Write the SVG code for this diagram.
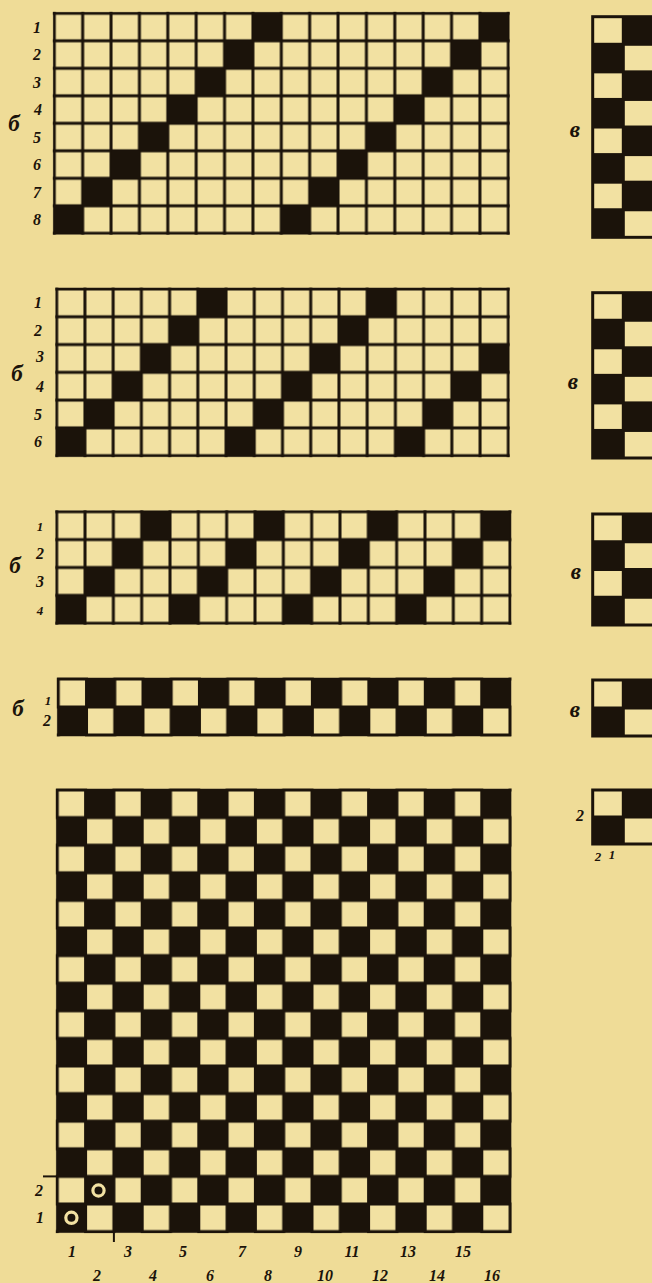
<svg xmlns="http://www.w3.org/2000/svg" width="652" height="1283" viewBox="0 0 652 1283">
<style>
.bg{fill:#efdc97}
.k{fill:#1b130a}
.c{fill:#f2e1a2}
.lbl{font-family:"Liberation Serif","DejaVu Serif",serif;font-style:italic;font-weight:bold;font-size:16px;fill:#1b130a;text-anchor:middle}
.big{font-size:23px}
.sm{font-size:13px}
.tick{stroke:#1b130a;stroke-width:2;fill:none}
.ring{fill:#1b130a;stroke:#f2e1a2;stroke-width:3.2}
</style>
<defs>
<pattern id="p1" x="54.3" y="13.3" width="28.375" height="27.5" patternUnits="userSpaceOnUse"><rect class="k" width="28.375" height="27.5"/><rect class="c" x="1.5" y="1.5" width="25.375" height="24.5"/></pattern>
<pattern id="p2" x="56.7" y="289" width="28.225" height="27.78" patternUnits="userSpaceOnUse"><rect class="k" width="28.225" height="27.78"/><rect class="c" x="1.5" y="1.5" width="25.225" height="24.78"/></pattern>
<pattern id="p3" x="56.7" y="511.7" width="28.33" height="27.9" patternUnits="userSpaceOnUse"><rect class="k" width="28.33" height="27.9"/><rect class="c" x="1.5" y="1.5" width="25.33" height="24.9"/></pattern>
<pattern id="p4" x="58.3" y="679" width="56.46" height="56" patternUnits="userSpaceOnUse"><rect class="k" width="56.46" height="56"/><rect class="c" x="1.5" y="1.5" width="25.23" height="25"/><rect class="c" x="29.73" y="29.5" width="25.23" height="25"/></pattern>
<pattern id="p5" x="57.3" y="790" width="56.6" height="55.2" patternUnits="userSpaceOnUse"><rect class="k" width="56.6" height="55.2"/><rect class="c" x="1.5" y="1.5" width="25.3" height="24.6"/><rect class="c" x="29.8" y="29.1" width="25.3" height="24.6"/></pattern>
</defs>
<rect class="bg" x="0" y="0" width="652" height="1283"/>

<g id="grid-b1">
<rect x="52.8" y="11.8" width="457" height="223" fill="url(#p1)"/>
<g class="k" transform="translate(54.3 13.3) scale(28.375 27.5)">
<rect x="7" y="0" width="1" height="1"/><rect x="15" y="0" width="1" height="1"/>
<rect x="6" y="1" width="1" height="1"/><rect x="14" y="1" width="1" height="1"/>
<rect x="5" y="2" width="1" height="1"/><rect x="13" y="2" width="1" height="1"/>
<rect x="4" y="3" width="1" height="1"/><rect x="12" y="3" width="1" height="1"/>
<rect x="3" y="4" width="1" height="1"/><rect x="11" y="4" width="1" height="1"/>
<rect x="2" y="5" width="1" height="1"/><rect x="10" y="5" width="1" height="1"/>
<rect x="1" y="6" width="1" height="1"/><rect x="9" y="6" width="1" height="1"/>
<rect x="0" y="7" width="1" height="1"/><rect x="8" y="7" width="1" height="1"/>
</g>
<text class="lbl big" x="14" y="131">б</text>
<text class="lbl" x="37" y="32.5">1</text>
<text class="lbl" x="37" y="60">2</text>
<text class="lbl" x="37" y="87.5">3</text>
<text class="lbl" x="38" y="115">4</text>
<text class="lbl" x="37" y="142.5">5</text>
<text class="lbl" x="37" y="170">6</text>
<text class="lbl" x="37" y="197.5">7</text>
<text class="lbl" x="37" y="225">8</text>
</g>

<g id="grid-b2">
<rect x="55.2" y="287.5" width="454.6" height="169.7" fill="url(#p2)"/>
<g class="k" transform="translate(56.7 289) scale(28.225 27.78)">
<rect x="5" y="0" width="1" height="1"/><rect x="11" y="0" width="1" height="1"/>
<rect x="4" y="1" width="1" height="1"/><rect x="10" y="1" width="1" height="1"/>
<rect x="3" y="2" width="1" height="1"/><rect x="9" y="2" width="1" height="1"/><rect x="15" y="2" width="1" height="1"/>
<rect x="2" y="3" width="1" height="1"/><rect x="8" y="3" width="1" height="1"/><rect x="14" y="3" width="1" height="1"/>
<rect x="1" y="4" width="1" height="1"/><rect x="7" y="4" width="1" height="1"/><rect x="13" y="4" width="1" height="1"/>
<rect x="0" y="5" width="1" height="1"/><rect x="6" y="5" width="1" height="1"/><rect x="12" y="5" width="1" height="1"/>
</g>
<text class="lbl big" x="17" y="381">б</text>
<text class="lbl" x="38" y="308.4">1</text>
<text class="lbl" x="38" y="336.2">2</text>
<text class="lbl" x="40" y="362">3</text>
<text class="lbl" x="40" y="391.7">4</text>
<text class="lbl" x="38" y="419.5">5</text>
<text class="lbl" x="38" y="447.3">6</text>
</g>

<g id="grid-b3">
<rect x="55.2" y="510.2" width="456.3" height="114.6" fill="url(#p3)"/>
<g class="k" transform="translate(56.7 511.7) scale(28.33 27.9)">
<rect x="3" y="0" width="1" height="1"/><rect x="7" y="0" width="1" height="1"/><rect x="11" y="0" width="1" height="1"/><rect x="15" y="0" width="1" height="1"/>
<rect x="2" y="1" width="1" height="1"/><rect x="6" y="1" width="1" height="1"/><rect x="10" y="1" width="1" height="1"/><rect x="14" y="1" width="1" height="1"/>
<rect x="1" y="2" width="1" height="1"/><rect x="5" y="2" width="1" height="1"/><rect x="9" y="2" width="1" height="1"/><rect x="13" y="2" width="1" height="1"/>
<rect x="0" y="3" width="1" height="1"/><rect x="4" y="3" width="1" height="1"/><rect x="8" y="3" width="1" height="1"/><rect x="12" y="3" width="1" height="1"/>
</g>
<text class="lbl big" x="15" y="573">б</text>
<text class="lbl sm" x="40" y="531">1</text>
<text class="lbl" x="40" y="559">2</text>
<text class="lbl" x="40" y="587">3</text>
<text class="lbl sm" x="40" y="615">4</text>
</g>

<g id="grid-b4">
<rect x="56.8" y="677.5" width="454.7" height="59" fill="url(#p4)"/>
<text class="lbl big" x="18" y="716">б</text>
<text class="lbl sm" x="48" y="705">1</text>
<text class="lbl" x="47" y="726">2</text>
</g>

<g id="grid-a">
<rect x="55.8" y="788.5" width="455.8" height="444.6" fill="url(#p5)"/>
<circle class="ring" cx="98.5" cy="1190.5" r="5.6"/>
<circle class="ring" cx="71.4" cy="1217.8" r="5.6"/>
<text class="lbl" x="39" y="1196">2</text>
<text class="lbl" x="40" y="1223">1</text>
<text class="lbl" x="72" y="1257">1</text>
<text class="lbl" x="128" y="1257">3</text>
<text class="lbl" x="183" y="1257">5</text>
<text class="lbl" x="242" y="1257">7</text>
<text class="lbl" x="298" y="1257">9</text>
<text class="lbl" x="352" y="1257">11</text>
<text class="lbl" x="408" y="1257">13</text>
<text class="lbl" x="463" y="1257">15</text>
<text class="lbl" x="97" y="1281">2</text>
<text class="lbl" x="153" y="1281">4</text>
<text class="lbl" x="210" y="1281">6</text>
<text class="lbl" x="268" y="1281">8</text>
<text class="lbl" x="325" y="1281">10</text>
<text class="lbl" x="380" y="1281">12</text>
<text class="lbl" x="437" y="1281">14</text>
<text class="lbl" x="492" y="1281">16</text>
</g>

<g id="grid-v1">
<rect class="k" x="591.2" y="15.2" width="68.8" height="223.6"/>
<rect class="c" x="594.2" y="18.2" width="27.6" height="24.58"/>
<rect class="c" x="624.8" y="45.78" width="27.6" height="24.58"/>
<rect class="c" x="594.2" y="73.36" width="27.6" height="24.58"/>
<rect class="c" x="624.8" y="100.94" width="27.6" height="24.58"/>
<rect class="c" x="594.2" y="128.52" width="27.6" height="24.58"/>
<rect class="c" x="624.8" y="156.1" width="27.6" height="24.58"/>
<rect class="c" x="594.2" y="183.68" width="27.6" height="24.58"/>
<rect class="c" x="624.8" y="211.26" width="27.6" height="24.58"/>
<text class="lbl big" x="575" y="137">в</text>
</g>

<g id="grid-v2">
<rect class="k" x="591.2" y="291.2" width="68.8" height="168.3"/>
<rect class="c" x="594.2" y="294.2" width="27.6" height="24.55"/>
<rect class="c" x="624.8" y="321.75" width="27.6" height="24.55"/>
<rect class="c" x="594.2" y="349.3" width="27.6" height="24.55"/>
<rect class="c" x="624.8" y="376.85" width="27.6" height="24.55"/>
<rect class="c" x="594.2" y="404.4" width="27.6" height="24.55"/>
<rect class="c" x="624.8" y="431.95" width="27.6" height="24.55"/>
<text class="lbl big" x="573" y="389">в</text>
</g>

<g id="grid-v3">
<rect class="k" x="591.2" y="512.5" width="68.8" height="114"/>
<rect class="c" x="594.2" y="515.5" width="27.6" height="24.75"/>
<rect class="c" x="624.8" y="543.25" width="27.6" height="24.75"/>
<rect class="c" x="594.2" y="571" width="27.6" height="24.75"/>
<rect class="c" x="624.8" y="598.75" width="27.6" height="24.75"/>
<text class="lbl big" x="576" y="579">в</text>
</g>

<g id="grid-v4">
<rect class="k" x="591.2" y="678.5" width="68.8" height="59"/>
<rect class="c" x="594.2" y="681.5" width="27.6" height="25"/>
<rect class="c" x="624.8" y="709.5" width="27.6" height="25"/>
<text class="lbl big" x="575" y="717">в</text>
</g>

<g id="grid-v5">
<rect class="k" x="591.2" y="788.5" width="68.8" height="57"/>
<rect class="c" x="594.2" y="791.5" width="27.6" height="24"/>
<rect class="c" x="624.8" y="818.5" width="27.6" height="24"/>
<text class="lbl" x="580" y="821">2</text>
<text class="lbl sm" x="598" y="861">2</text>
<text class="lbl sm" x="612" y="859">1</text>
</g>

<g id="connectors">
<path class="tick" d="M43 1176.4 H57"/>
<path class="tick" d="M113.9 1232 V1242"/>
</g>
</svg>
